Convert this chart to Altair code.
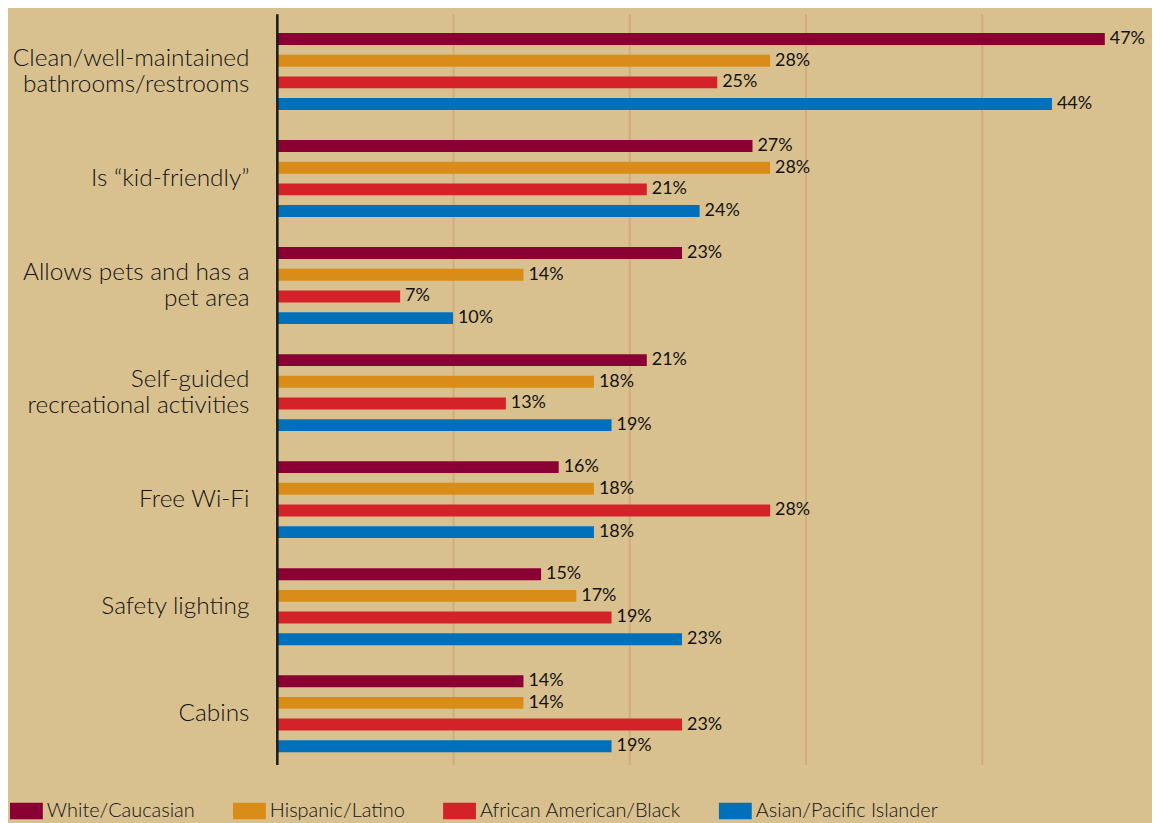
import altair as alt
import pandas as pd

features = [
    "Clean/well-maintained|bathrooms/restrooms",
    "Is “kid-friendly”",
    "Allows pets and has a|pet area",
    "Self-guided|recreational activities",
    "Free Wi-Fi",
    "Safety lighting",
    "Cabins",
]
groups = ["White/Caucasian", "Hispanic/Latino", "African American/Black", "Asian/Pacific Islander"]
white = [47, 27, 23, 21, 16, 15, 14]
hispanic = [28, 28, 14, 18, 18, 17, 14]
black = [25, 21, 7, 13, 28, 19, 23]
asian = [44, 24, 10, 19, 18, 23, 19]
colors = ["#8b0033", "#d98c17", "#d42229", "#0070bb"]

rows = []
for g, vals in zip(groups, [white, hispanic, black, asian]):
    for f, v in zip(features, vals):
        rows.append({"feature": f, "group": g, "value": v, "label": f"{v}%"})
df = pd.DataFrame(rows)

FONT = "Lato"
TXT = "#141213"

base = alt.Chart(df).encode(
    y=alt.Y(
        "feature:N",
        sort=features,
        scale=alt.Scale(paddingInner=0.19, paddingOuter=0.102, align=0.66),
        axis=alt.Axis(
            title=None,
            labelExpr="split(datum.label, '|')",
            labelFontSize=24.5,
            labelFont=FONT,
            labelFontWeight=300,
            labelColor=TXT,
            labelPadding=28,
            labelLineHeight=26.5,
            labelLimit=400,
            labelOffset={"condition": {"test": "indexof(datum.value, '|') >= 0", "value": -13}, "value": 0},
            ticks=False,
            domainColor="#1a1a1a",
            domainWidth=2.5,
            zindex=1,
        ),
    ),
    yOffset=alt.YOffset(
        "group:N",
        sort=groups,
        scale=alt.Scale(paddingInner=0.45, paddingOuter=0.225),
    ),
    x=alt.X(
        "value:Q",
        scale=alt.Scale(domain=[0, 49], nice=False, zero=True),
        axis=alt.Axis(
            values=[10, 20, 30, 40],
            labels=False,
            ticks=False,
            domain=False,
            title=None,
            grid=True,
            gridColor="#d4ac7c",
            gridWidth=2,
        ),
    ),
)

bars = base.mark_bar().encode(
    color=alt.Color(
        "group:N",
        sort=groups,
        scale=alt.Scale(domain=groups, range=colors),
        legend=alt.Legend(
            orient="none",
            legendX=-268,
            legendY=784,
            direction="horizontal",
            columns=4,
            title=None,
            symbolType="M-1,-0.5H1V0.5H-1Z",
            symbolSize=1089,
            symbolStrokeWidth=0,
            symbolOpacity=1,
            labelOffset=4,
            labelFontSize=20,
            labelFont=FONT,
            labelFontWeight=300,
            labelColor=TXT,
            columnPadding=38,
            padding=0,
            labelLimit=400,
        ),
    )
)

text = base.mark_text(
    align="left", baseline="middle", dx=5, fontSize=18, font=FONT, fontWeight=400, color=TXT
).encode(text="label:N")

chart = (
    alt.layer(bars, text)
    .properties(
        width=867,
        height=754,
        autosize=alt.AutoSizeParams(type="none"),
        padding={"left": 270, "top": 4, "right": 12, "bottom": 61},
        background="#d8c18f",
    )
    .configure_view(stroke=None)
)

chart.save("out.html", embed_options={"renderer": "svg", "actions": False})
